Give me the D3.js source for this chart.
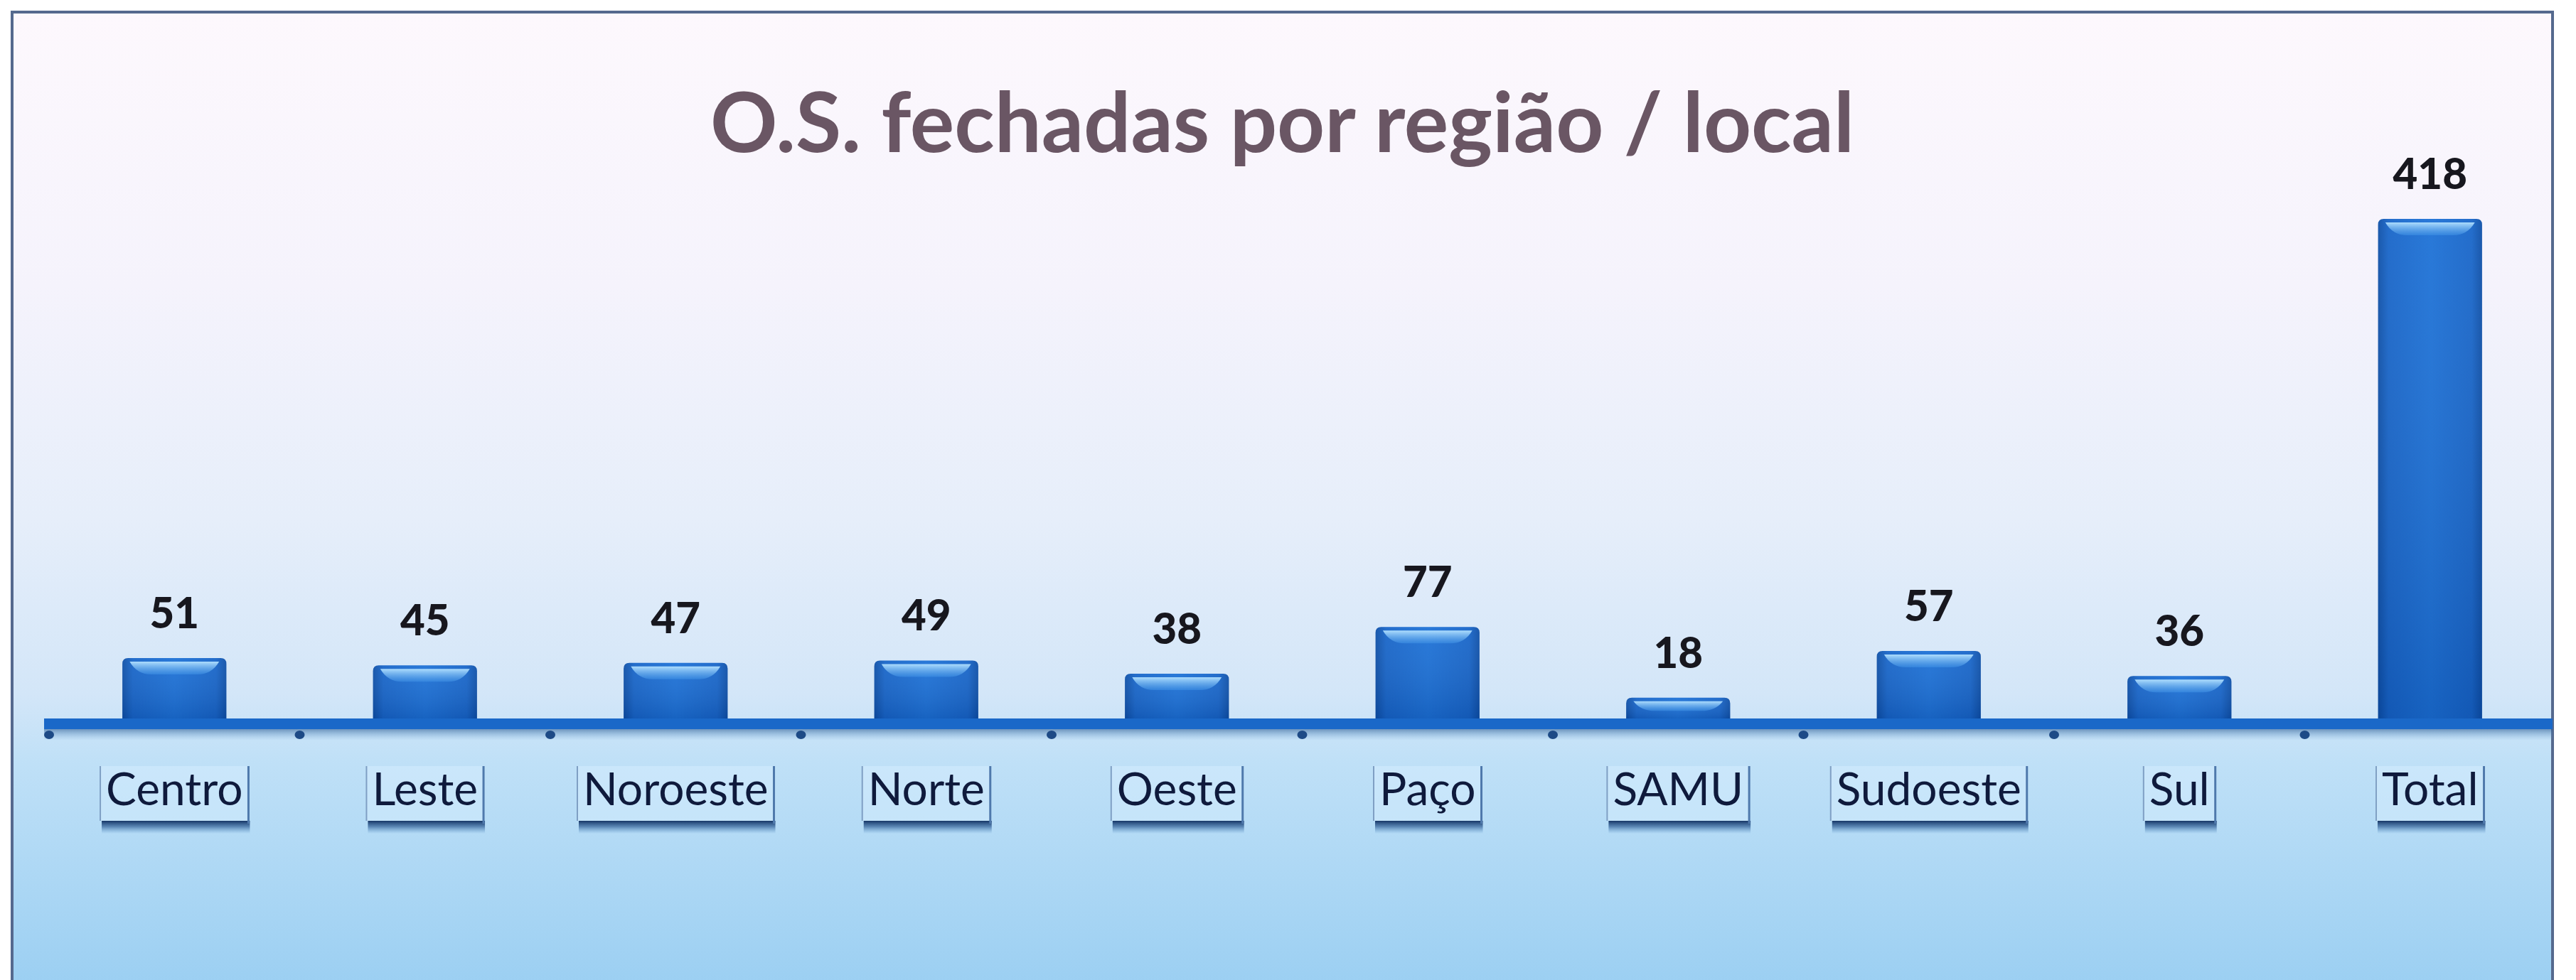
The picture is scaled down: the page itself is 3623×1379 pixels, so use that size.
<!DOCTYPE html>
<html>
<head>
<meta charset="utf-8">
<script src="https://cdn.jsdelivr.net/npm/d3@7"></script>
<style>
  html, body { margin: 0; padding: 0; background: #ffffff; }
  svg { display: block; }
</style>
</head>
<body>
<div id="chart"></div>
<script>
// data
const categories = ['Centro', 'Leste', 'Noroeste', 'Norte', 'Oeste', 'Paço', 'SAMU', 'Sudoeste', 'Sul', 'Total'];
const values = [51, 45, 47, 49, 38, 77, 18, 57, 36, 418];
const chartTitle = 'O.S. fechadas por região / local';

const config = {
	width: 3623,
	height: 1379,
	frame: {left: 17, top: 17, right: 3590},
	axisY: 1012,
	topY: 308
};

const data = categories.map((c, i) => ({cat: c, value: values[i]}));

const svg = d3.select('#chart').append('svg')
	.attr('width', config.width)
	.attr('height', config.height);

const defs = svg.append('defs');

//Background gradient (pinkish white at top to light blue at bottom)
const bg = defs.append('linearGradient')
	.attr('id', 'bgGrad')
	.attr('x1', 0).attr('y1', 0).attr('x2', 0).attr('y2', 1);
[
	['0%', '#fdf8fd'],
	['28%', '#f5f3fc'],
	['52%', '#e6eefa'],
	['70%', '#d3e6f8'],
	['77%', '#bfe0f7'],
	['100%', '#9bcff2']
].forEach(s => bg.append('stop').attr('offset', s[0]).attr('stop-color', s[1]));

//Bar body gradient, darker at the edges
const barGrad = defs.append('linearGradient')
	.attr('id', 'barGrad')
	.attr('x1', 0).attr('y1', 0).attr('x2', 1).attr('y2', 0);
[
	['0%', '#0c4ea6'],
	['10%', '#1664c8'],
	['50%', '#1b70d6'],
	['90%', '#1664c8'],
	['100%', '#0c4ea6']
].forEach(s => barGrad.append('stop').attr('offset', s[0]).attr('stop-color', s[1]));

const barShade = defs.append('linearGradient')
	.attr('id', 'barShade')
	.attr('x1', 0).attr('y1', 0).attr('x2', 0).attr('y2', 1);
barShade.append('stop').attr('offset', '0%').attr('stop-color', '#ffffff').attr('stop-opacity', 0.06);
barShade.append('stop').attr('offset', '100%').attr('stop-color', '#001a50').attr('stop-opacity', 0.16);

const hiGrad = defs.append('linearGradient')
	.attr('id', 'hiGrad')
	.attr('x1', 0).attr('y1', 0).attr('x2', 0).attr('y2', 1);
hiGrad.append('stop').attr('offset', '0%').attr('stop-color', '#b4e2ff').attr('stop-opacity', 0.95);
hiGrad.append('stop').attr('offset', '100%').attr('stop-color', '#3f92e6').attr('stop-opacity', 0.55);

//Shadow under the label boxes
const shGrad = defs.append('linearGradient')
	.attr('id', 'shGrad')
	.attr('x1', 0).attr('y1', 0).attr('x2', 0).attr('y2', 1);
shGrad.append('stop').attr('offset', '0%').attr('stop-color', '#0d2c5e').attr('stop-opacity', 0.95);
shGrad.append('stop').attr('offset', '45%').attr('stop-color', '#1c4b86').attr('stop-opacity', 0.6);
shGrad.append('stop').attr('offset', '100%').attr('stop-color', '#3a78b8').attr('stop-opacity', 0);

const axisShadow = defs.append('linearGradient')
	.attr('id', 'axisShadow')
	.attr('x1', 0).attr('y1', 0).attr('x2', 0).attr('y2', 1);
axisShadow.append('stop').attr('offset', '0%').attr('stop-color', '#2f5f96').attr('stop-opacity', 0.6);
axisShadow.append('stop').attr('offset', '100%').attr('stop-color', '#6fa6d8').attr('stop-opacity', 0);

//Chart frame
svg.append('rect')
	.attr('x', config.frame.left)
	.attr('y', config.frame.top)
	.attr('width', config.frame.right - config.frame.left)
	.attr('height', config.height - config.frame.top + 10)
	.attr('fill', 'url(#bgGrad)')
	.attr('stroke', '#55698e')
	.attr('stroke-width', 4);

//Scales
const xScale = d3.scaleBand()
	.domain(categories)
	.range([69, 3594])
	.paddingInner(0.585)
	.paddingOuter(0.2925);

const yScale = d3.scaleLinear()
	.domain([0, d3.max(values)])
	.range([config.axisY, config.topY]);

//Title
svg.append('text')
	.attr('x', (config.frame.left + config.frame.right) / 2)
	.attr('y', 214)
	.attr('text-anchor', 'middle')
	.style('font-family', 'Lato, "Open Sans", sans-serif')
	.style('font-weight', 700)
	.style('font-size', '117px')
	.style('fill', '#6a5664')
	.text(chartTitle);

//Bars
const barG = svg.append('g').attr('class', 'bars');

const bars = barG.selectAll('.bar')
	.data(data)
	.join('g')
	.attr('class', 'bar')
	.attr('transform', d => `translate(${xScale(d.cat)},0)`);

const bw = xScale.bandwidth();

bars.append('path')
	.attr('d', d => {
		const top = yScale(d.value);
		const r = 8;
		return `M0,${config.axisY + 2} L0,${top + r} Q0,${top} ${r},${top} L${bw - r},${top} Q${bw},${top} ${bw},${top + r} L${bw},${config.axisY + 2} Z`;
	})
	.attr('fill', 'url(#barGrad)');

bars.append('rect')
	.attr('x', 0)
	.attr('y', d => yScale(d.value))
	.attr('width', bw)
	.attr('height', d => config.axisY - yScale(d.value))
	.attr('fill', 'url(#barShade)');

//glossy highlight near the top of each bar
bars.append('path')
	.attr('d', d => {
		const top = yScale(d.value);
		const h = Math.min(18, (config.axisY - top) * 0.45);
		return `M${bw * 0.07},${top + 5} L${bw * 0.93},${top + 5} Q${bw * 0.86},${top + 5 + h} ${bw * 0.72},${top + 5 + h} L${bw * 0.28},${top + 5 + h} Q${bw * 0.14},${top + 5 + h} ${bw * 0.07},${top + 5} Z`;
	})
	.attr('fill', 'url(#hiGrad)');

//Value labels
barG.selectAll('.value-label')
	.data(data)
	.join('text')
	.attr('class', 'value-label')
	.attr('x', d => xScale(d.cat) + bw / 2)
	.attr('y', d => yScale(d.value) - 42)
	.attr('text-anchor', 'middle')
	.style('font-family', 'Lato, "Open Sans", sans-serif')
	.style('font-weight', 900)
	.style('font-size', '60px')
	.style('fill', '#17171e')
	.text(d => d.value);

//Axis line with shadow
svg.append('rect')
	.attr('x', 62)
	.attr('y', config.axisY + 14)
	.attr('width', config.frame.right - 62)
	.attr('height', 16)
	.attr('fill', 'url(#axisShadow)');

svg.append('rect')
	.attr('x', 62)
	.attr('y', config.axisY - 1)
	.attr('width', config.frame.right - 62)
	.attr('height', 15)
	.attr('fill', '#1a68c8');

//Tick dots at band boundaries
const boundaries = categories.map(c => xScale(c) - xScale.step() * xScale.paddingInner() / 2);
svg.selectAll('.tick-dot')
	.data(boundaries)
	.join('ellipse')
	.attr('class', 'tick-dot')
	.attr('cx', d => d)
	.attr('cy', config.axisY + 22)
	.attr('rx', 7)
	.attr('ry', 6)
	.attr('fill', '#1d4a86');

//Category labels in boxes
const labelG = svg.append('g').attr('class', 'x-labels');

const labels = labelG.selectAll('.x-label')
	.data(data)
	.join('g')
	.attr('class', 'x-label');

labels.append('text')
	.attr('x', d => xScale(d.cat) + bw / 2)
	.attr('y', 1133)
	.attr('text-anchor', 'middle')
	.style('font-family', 'Lato, "Open Sans", sans-serif')
	.style('font-weight', 400)
	.style('font-size', '64px')
	.style('fill', '#0f1a3c')
	.text(d => d.cat);

labels.each(function () {
	const g = d3.select(this);
	const t = g.select('text');
	const w = t.node().getComputedTextLength();
	const cx = +t.attr('x');
	const x0 = cx - w / 2 - 8;
	const x1 = cx + w / 2 + 8;
	const y0 = 1078, y1 = 1155;

	g.insert('rect', 'text')
		.attr('x', x0)
		.attr('y', y0)
		.attr('width', x1 - x0)
		.attr('height', y1 - y0)
		.attr('fill', '#d9efff')
		.attr('fill-opacity', 0.45);

	g.insert('rect', 'text')
		.attr('x', x0 + 2)
		.attr('y', y1)
		.attr('width', x1 - x0)
		.attr('height', 18)
		.attr('fill', 'url(#shGrad)');

	g.insert('line', 'text')
		.attr('x1', x0).attr('x2', x0)
		.attr('y1', y0).attr('y2', y1)
		.attr('stroke', '#7f9fc4')
		.attr('stroke-width', 2);

	g.insert('line', 'text')
		.attr('x1', x1).attr('x2', x1)
		.attr('y1', y0).attr('y2', y1 + 4)
		.attr('stroke', '#4f79ac')
		.attr('stroke-width', 3);
});
</script>
</body>
</html>
